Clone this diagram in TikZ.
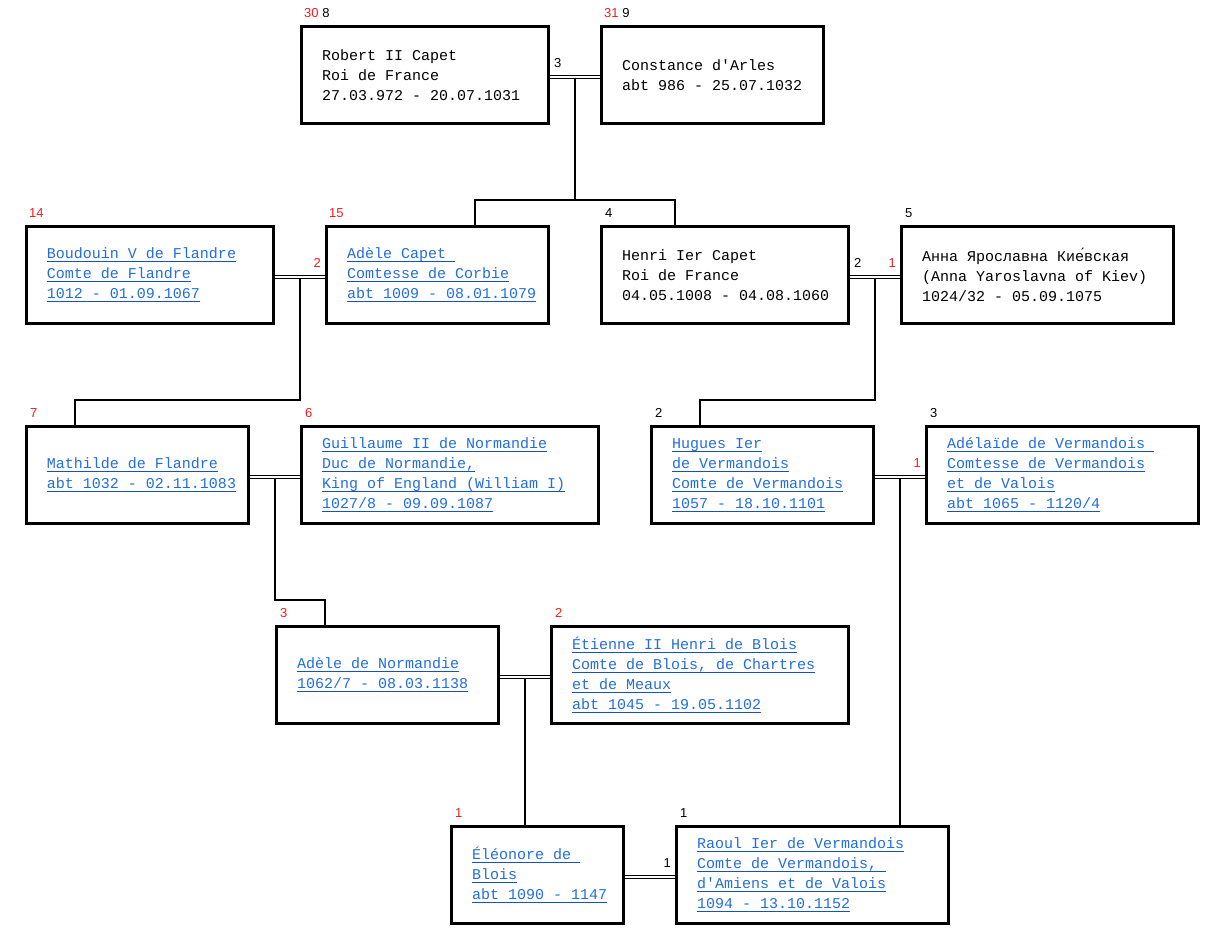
\documentclass[tikz,border=0pt]{standalone}
\usepackage{fontspec}
\setmonofont{Liberation Mono}
\newfontfamily\numfont{Liberation Sans}
\usetikzlibrary{calc}

\definecolor{linkblue}{RGB}{35,110,220}
\definecolor{linkline}{RGB}{20,80,200}
\definecolor{numred}{RGB}{240,30,30}

% box text: fixed-pitch, full-width spaces
\newcommand{\boxfont}{\ttfamily\fontsize{15}{20}\selectfont}
\newcommand{\fixspaces}{\spaceskip=9pt\relax\xspaceskip=9pt\relax}
\newcommand{\boxpar}{\fixspaces\leftskip=20.5pt\relax}
% underlined link text, trailing spaces kept
\newcommand{\lnk}[1]{\leavevmode\setbox0\hbox{\fixspaces#1}\rlap{\color{linkline}\rule[-3.5pt]{\wd0}{1pt}}\box0}

\begin{document}
\begin{tikzpicture}[x=1pt, y=-1pt,
  person/.style={rectangle, draw=black, line width=3pt, anchor=north west,
    minimum width=#1pt-3pt, text width=#1pt-3pt, minimum height=97pt,
    inner xsep=0pt, inner ysep=0pt, align=left, font=\boxfont,
    execute at begin node=\boxpar},
  link/.style={text=linkblue},
  num/.style={font=\numfont\fontsize{13}{13}\selectfont, inner sep=0pt},
  marriage/.style={draw=black, line width=1pt, double=white, double distance=2pt},
  desc/.style={draw=black, line width=1.6pt}
]
\fill[white] (0,0) rectangle (1226,951);

% generation 1
\node[person=250] (robert) at (300,25) {Robert II Capet\\Roi de France\\27.03.972 - 20.07.1031};
\node[person=225] (constance) at (600,25) {Constance d'Arles\\abt 986 - 25.07.1032};
% generation 2
\node[person=250, link] (boudouin) at (25,225) {\lnk{Boudouin V de Flandre}\\\lnk{Comte de Flandre}\\\lnk{1012 - 01.09.1067}};
\node[person=225, link] (adelecapet) at (325,225) {\lnk{Adèle Capet }\\\lnk{Comtesse de Corbie}\\\lnk{abt 1009 - 08.01.1079}};
\node[person=250] (henri) at (600,225) {Henri Ier Capet\\Roi de France\\04.05.1008 - 04.08.1060};
\node[person=275] (anna) at (900,225) {Анна Ярославна Кие́вская\\(Anna Yaroslavna of Kiev)\\1024/32 - 05.09.1075};
% generation 3
\node[person=225, link] (mathilde) at (25,425) {\lnk{Mathilde de Flandre}\\\lnk{abt 1032 - 02.11.1083}};
\node[person=300, link] (guillaume) at (300,425) {\lnk{Guillaume II de Normandie}\\\lnk{Duc de Normandie,}\\\lnk{King of England (William I)}\\\lnk{1027/8 - 09.09.1087}};
\node[person=225, link] (hugues) at (650,425) {\lnk{Hugues Ier}\\\lnk{de Vermandois}\\\lnk{Comte de Vermandois}\\\lnk{1057 - 18.10.1101}};
\node[person=275, link] (adelaide) at (925,425) {\lnk{Adélaïde de Vermandois }\\\lnk{Comtesse de Vermandois}\\\lnk{et de Valois}\\\lnk{abt 1065 - 1120/4}};
% generation 4
\node[person=225, link] (adelenorm) at (275,625) {\lnk{Adèle de Normandie}\\\lnk{1062/7 - 08.03.1138}};
\node[person=300, link] (etienne) at (550,625) {\lnk{Étienne II Henri de Blois}\\\lnk{Comte de Blois, de Chartres}\\\lnk{et de Meaux}\\\lnk{abt 1045 - 19.05.1102}};
% generation 5
\node[person=175, link] (eleonore) at (450,825) {\lnk{Éléonore de }\\\lnk{Blois}\\\lnk{abt 1090 - 1147}};
\node[person=275, link] (raoul) at (675,825) {\lnk{Raoul Ier de Vermandois}\\\lnk{Comte de Vermandois, }\\\lnk{d'Amiens et de Valois}\\\lnk{1094 - 13.10.1152}};

% marriages
\foreach \a/\b/\m in {robert/constance/mRC, boudouin/adelecapet/mBA, henri/anna/mHA,
    mathilde/guillaume/mMG, hugues/adelaide/mHV, adelenorm/etienne/mAE, eleonore/raoul/mER}
  {\draw[marriage] ($(\a.east)+(0,1.5)$) -- ($(\b.west)+(0,1.5)$);
   \coordinate (\m) at ($(\a.east)!0.5!(\b.west)+(0,3)$);}

% children
\coordinate (inAC) at ($(adelecapet.north west)+(150,0)$);
\coordinate (inHE) at ($(henri.north west)+(75,0)$);
\coordinate (inMA) at ($(mathilde.north west)+(50,0)$);
\coordinate (inHU) at ($(hugues.north west)+(50,0)$);
\coordinate (inAN) at ($(adelenorm.north west)+(50,0)$);
\coordinate (inEL) at ($(eleonore.north west)+(75,0)$);
\coordinate (inRA) at ($(raoul.north west)+(225,0)$);
\foreach \m/\c in {mRC/inAC, mRC/inHE, mBA/inMA, mHA/inHU, mMG/inAN, mAE/inEL, mHV/inRA}
  {\draw[desc] (\m) |- ($(\c)+(0,-25)$) -- (\c);}

% numbers above the boxes
\node[num, anchor=base west] (tRO) at ($(robert.north west)+(4,-8)$) {\textcolor{numred}{30} 8};
\node[num, anchor=base west] (tCO) at ($(constance.north west)+(4,-8)$) {\textcolor{numred}{31} 9};
\node[num, anchor=base west, text=numred] (tBO) at ($(boudouin.north west)+(4,-8)$) {14};
\node[num, anchor=base west, text=numred] (tAC) at ($(adelecapet.north west)+(4,-8)$) {15};
\node[num, anchor=base west] (tHE) at ($(henri.north west)+(5,-8)$) {4};
\node[num, anchor=base west] (tAN) at ($(anna.north west)+(5,-8)$) {5};
\node[num, anchor=base west, text=numred] (tMA) at ($(mathilde.north west)+(5,-8)$) {7};
\node[num, anchor=base west, text=numred] (tGU) at ($(guillaume.north west)+(5,-8)$) {6};
\node[num, anchor=base west] (tHU) at ($(hugues.north west)+(5,-8)$) {2};
\node[num, anchor=base west] (tAD) at ($(adelaide.north west)+(5,-8)$) {3};
\node[num, anchor=base west, text=numred] (tAN2) at ($(adelenorm.north west)+(5,-8)$) {3};
\node[num, anchor=base west, text=numred] (tET) at ($(etienne.north west)+(5,-8)$) {2};
\node[num, anchor=base west, text=numred] (tEL) at ($(eleonore.north west)+(5,-8)$) {1};
\node[num, anchor=base west] (tRA) at ($(raoul.north west)+(5,-8)$) {1};

% numbers on the marriage lines
\node[num, anchor=base west] (cRC) at ($(robert.east)+(4,-8)$) {3};
\node[num, anchor=base east, text=numred] (cBA) at ($(adelecapet.west)+(-4,-8)$) {2};
\node[num, anchor=base west] (cHA) at ($(henri.east)+(4,-8)$) {2};
\node[num, anchor=base east, text=numred] (cAH) at ($(anna.west)+(-4,-8)$) {1};
\node[num, anchor=base east, text=numred] (cHV) at ($(adelaide.west)+(-4,-8)$) {1};
\node[num, anchor=base east] (cER) at ($(raoul.west)+(-4,-8)$) {1};
\end{tikzpicture}
\end{document}
